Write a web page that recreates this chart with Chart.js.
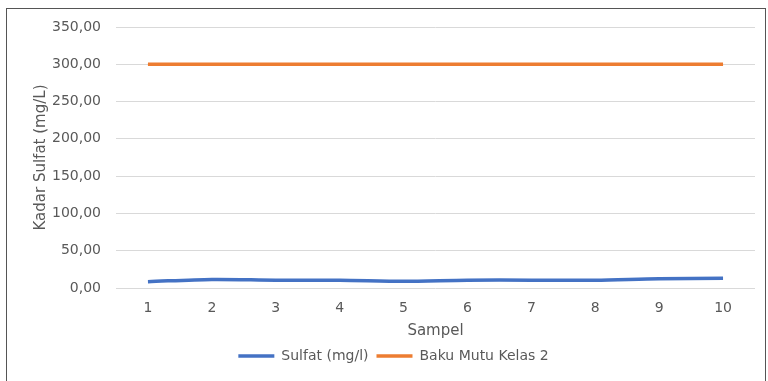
<!DOCTYPE html>
<html lang="id">
<head>
  <meta charset="UTF-8">
  <title>Kadar Sulfat</title>
  <script src="https://cdn.jsdelivr.net/npm/chart.js"></script>
  <style>
    body { margin: 0; background: #fff; }
    #wrap { position: relative; width: 768px; height: 381px; }
    #frame { position: absolute; left: 6px; top: 8px; width: 760px; height: 380px;
             border: 1px solid #555; border-bottom: none; box-sizing: border-box; }
    canvas { position: absolute; left: 0; top: 0; }
  </style>
</head>
<body>
  <div id="wrap">
    <div id="frame"></div>
    <canvas id="sulfatChart" width="768" height="381"></canvas>
  </div>

  <script>
    // Data sampel
    const sampel = ['1', '2', '3', '4', '5', '6', '7', '8', '9', '10'];
    const sulfat = [8.5, 11.5, 10.5, 10.5, 9, 10.5, 10.5, 10.5, 12.5, 13];
    const bakuMutu = [300, 300, 300, 300, 300, 300, 300, 300, 300, 300];
    const yTicks = [0, 50, 100, 150, 200, 250, 300, 350];

    const abu = '#595959';
    const huruf = "'DejaVu Sans', Verdana, sans-serif";

    const ctx = document.getElementById('sulfatChart').getContext('2d');
    new Chart(ctx, {
      type: 'line',
      data: {
        labels: sampel,
        datasets: [{
          label: 'Sulfat (mg/l)',
          data: sulfat,
          borderColor: '#4472C4',
          backgroundColor: '#4472C4',
          borderWidth: 3.5,
          pointRadius: 0,
          tension: 0.3,
          fill: false
        }, {
          label: 'Baku Mutu Kelas 2',
          data: bakuMutu,
          borderColor: '#ED7D31',
          backgroundColor: '#ED7D31',
          borderWidth: 3.5,
          pointRadius: 0,
          fill: false
        }]
      },
      options: {
        responsive: false,
        animation: false,
        layout: { padding: { left: 32, right: 13, top: 27, bottom: 8 } },
        plugins: {
          tooltip: { enabled: false },
          legend: {
            position: 'bottom',
            labels: {
              usePointStyle: true,
              pointStyle: 'line',
              pointStyleWidth: 36,
              padding: 8,
              color: abu,
              font: { family: huruf, size: 14 }
            }
          }
        },
        scales: {
          x: {
            offset: true,
            grid: { display: false, drawTicks: false },
            border: { display: false },
            ticks: { color: abu, padding: 12, font: { family: huruf, size: 14 } },
            title: { display: true, text: 'Sampel', color: abu, padding: { top: -6.4, bottom: 0.6 },
                     font: { family: huruf, size: 15 } }
          },
          y: {
            min: 0,
            max: 350,
            afterBuildTicks: (axis) => { axis.ticks = yTicks.map(v => ({ value: v })); },
            afterFit: (axis) => { axis.width = 84; },
            grid: { color: '#d9d9d9', lineWidth: 1, drawTicks: false },
            border: { display: false },
            ticks: {
              color: abu,
              padding: 15,
              font: { family: huruf, size: 14 },
              callback: (v) => v.toFixed(2).replace('.', ',')
            },
            title: { display: true, text: 'Kadar Sulfat (mg/L)', color: abu, padding: 0,
                     font: { family: huruf, size: 15 } }
          }
        }
      }
    });
  </script>
</body>
</html>
